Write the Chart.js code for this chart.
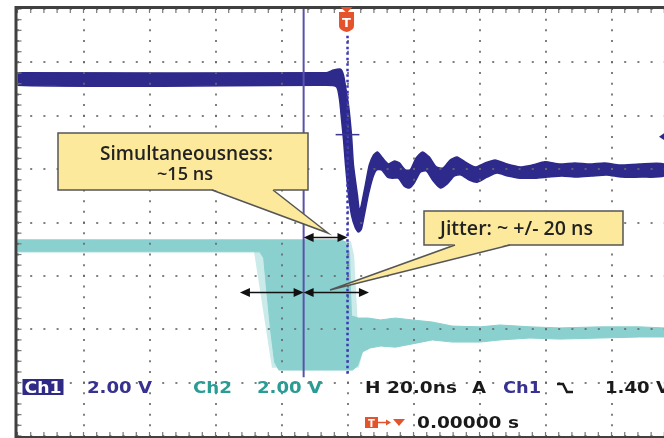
<!DOCTYPE html>
<html>
<head>
<meta charset="utf-8">
<script src="https://cdn.jsdelivr.net/npm/chart.js@4.4.1/dist/chart.umd.min.js"></script>
<style>
  html, body { margin: 0; padding: 0; background: #fff; overflow: hidden; }
  #wrap { width: 664px; height: 438px; position: relative; }
</style>
</head>
<body>
<div id="wrap"><canvas id="scope"></canvas></div>
<script>
// horizontal: ns, trigger at 0, 20 ns/div ; vertical: 2 V/div for both channels
const timeTicks = [-100, -80, -60, -40, -20, 0, 20, 40, 60, 80]
const divTicks = [-4, -3, -2, -1, 0, 1, 2, 3, 4]

// Ch1 persistence band, upper edge and lower edge (ns, V)
const ch1TopT = [-100, -6.6, -4.2, -2.1, -1.2, -0.6, 0.3, 1.2, 1.8, 3.0, 3.6, 4.2, 5.4, 6.6, 7.9, 9.1, 10.6, 12.4, 14.2, 15.7, 17.5, 19.0, 20.8, 22.7, 24.8, 26.9, 29.0, 31.1, 33.2, 35.6, 38.7, 41.7, 44.7, 48.3, 52.3, 55.9, 59.8, 64.3, 68.9, 73.4, 77.9, 82.5, 88.5, 95.9]
const ch1TopV = [3.72, 3.72, 3.82, 3.85, 3.62, 3.20, 2.51, 1.39, 0.26, -0.86, -1.46, -1.24, -0.49, 0.26, 0.64, 0.75, 0.53, 0.30, 0.41, 0.34, 0.08, 0.08, 0.53, 0.75, 0.56, 0.19, 0.15, 0.45, 0.56, 0.38, 0.19, 0.34, 0.45, 0.30, 0.19, 0.26, 0.38, 0.30, 0.34, 0.30, 0.34, 0.26, 0.30, 0.30]
const ch1BotT = [-100, -6.6, -3.3, -2.4, -1.8, -1.2, -0.6, 0.3, 1.2, 2.4, 3.3, 4.2, 5.1, 6.3, 7.6, 8.8, 10.3, 12.1, 13.6, 15.4, 17.2, 18.7, 20.2, 22.1, 23.9, 26.0, 28.1, 30.2, 32.3, 34.4, 36.9, 39.3, 42.3, 45.3, 48.6, 52.3, 56.8, 60.7, 65.0, 69.5, 74.0, 78.5, 83.1, 89.1, 95.9]
const ch1BotV = [3.25, 3.25, 3.19, 2.70, 1.95, 1.20, 0.26, -0.86, -1.61, -2.10, -2.25, -2.14, -1.61, -0.86, -0.23, 0.08, 0.08, -0.19, -0.23, -0.23, -0.53, -0.60, -0.41, 0.00, 0.04, -0.34, -0.60, -0.45, -0.15, -0.11, -0.30, -0.38, -0.19, -0.04, -0.15, -0.23, -0.23, -0.19, -0.15, -0.19, -0.15, -0.11, -0.19, -0.19, -0.15]

// Ch2 persistence band (ns, V)
const ch2TopT = [-100, -2.1, -0.6, 0.6, 0.9, 1.2, 3.3, 6.3, 10.0, 14.5, 19.6, 25.7, 31.7, 40.2, 46.2, 55.3, 64.3, 76.4, 88.5, 95.9]
const ch2TopV = [3.49, 3.49, 3.41, 3.04, 1.61, 0.64, 0.56, 0.56, 0.49, 0.56, 0.49, 0.41, 0.26, 0.23, 0.30, 0.23, 0.19, 0.23, 0.23, 0.19]
const ch2BotT = [-100, -26.6, -25.4, -24.5, -23.3, -22.1, -20.8, 1.5, 3.0, 4.5, 6.9, 10.0, 14.5, 19.6, 25.7, 31.7, 40.2, 46.2, 55.3, 64.3, 76.4, 88.5, 95.9]
const ch2BotV = [3.04, 3.04, 2.81, 1.61, 0.11, -1.09, -1.39, -1.39, -1.24, -0.71, -0.56, -0.49, -0.53, -0.41, -0.26, -0.34, -0.34, -0.26, -0.19, -0.23, -0.19, -0.15, -0.15]

// Ch2 jitter halo (outer extremes of the edge)
const ch2HaloT = [-28.4, -22.9, 3.4, 4.6, 3.0, 2.0, 1.0, -28.4]
const ch2HaloV = [3.10, -1.30, -1.30, -0.75, 0.60, 2.90, 3.45, 3.45]

const cursorT = -13.3
const trigLevel = 1.40
const simulArrow = [-13.3, 0]
const jitterArrows = [-32.6, -13.3, 6.5]

function outline(topT, topV, botT, botV) {
    let pts = []
    for (let i = 0; i < topT.length; i++) pts.push({x: topT[i], y: topV[i]})
    for (let i = botT.length - 1; i >= 0; i--) pts.push({x: botT[i], y: botV[i]})
    pts.push({x: topT[0], y: topV[0]})
    return pts
}

function polygon(t, v) {
    return t.map((x, i) => ({x: x, y: v[i]}))
}

function line(ctx, x1, y1, x2, y2) {
    ctx.beginPath()
    ctx.moveTo(x1, y1)
    ctx.lineTo(x2, y2)
    ctx.stroke()
}

function arrow(ctx, xa, xb, y) {
    ctx.strokeStyle = '#111'
    ctx.fillStyle = '#111'
    ctx.lineWidth = 1.5
    line(ctx, xa + 4, y, xb - 4, y)
    for (const [tip, dir] of [[xa, -1], [xb, 1]]) {
        ctx.beginPath()
        ctx.moveTo(tip, y)
        ctx.lineTo(tip - dir * 10, y - 4.5)
        ctx.lineTo(tip - dir * 10, y + 4.5)
        ctx.closePath()
        ctx.fill()
    }
}

function callout(ctx, box, tail, lines) {
    const [x0, y0, x1, y1] = box
    ctx.fillStyle = '#fce99b'
    ctx.strokeStyle = '#555'
    ctx.lineWidth = 1.5
    ctx.fillRect(x0, y0, x1 - x0, y1 - y0)
    ctx.strokeRect(x0, y0, x1 - x0, y1 - y0)
    const [bx0, bx1, tx, ty] = tail
    ctx.beginPath()
    ctx.moveTo(bx0, y1 - 1)
    ctx.lineTo(tx, ty)
    ctx.lineTo(bx1, y1 - 1)
    ctx.closePath()
    ctx.fill()
    ctx.beginPath()
    ctx.moveTo(bx0, y1)
    ctx.lineTo(tx, ty)
    ctx.lineTo(bx1, y1)
    ctx.stroke()
    for (const [text, cx, base, width] of lines) {
        ctx.font = '600 20px "Open Sans"'
        const size = 20 * width / ctx.measureText(text).width
        ctx.font = '600 ' + size + 'px "Open Sans"'
        ctx.fillStyle = '#222'
        ctx.textAlign = 'center'
        ctx.fillText(text, cx, base)
    }
}

// scope font is wide: stretch the glyphs to the measured width
function readout(ctx, text, x0, base, width, color) {
    ctx.font = 'bold 16px "DejaVu Sans"'
    const w = ctx.measureText(text).width
    ctx.save()
    ctx.translate(x0, base)
    ctx.scale(width / w, 1)
    ctx.textAlign = 'left'
    ctx.fillStyle = color
    ctx.fillText(text, 0, 0)
    ctx.restore()
}

const overlay = {
    id: 'overlay',
    afterDraw(chart) {
        const {ctx, chartArea: a, scales} = chart
        const px = v => scales.x.getPixelForValue(v)
        const pd = v => scales.y.getPixelForValue(v)
        const p1 = v => scales.y1.getPixelForValue(v)
        ctx.save()

        // small graticule ticks on the frame
        ctx.strokeStyle = '#777'
        ctx.lineWidth = 1.2
        for (let t = -100; t <= 96; t += 4) {
            line(ctx, px(t), a.top, px(t), a.top + 4)
            line(ctx, px(t), a.bottom - 4, px(t), a.bottom)
        }
        for (let d = -4; d <= 4.01; d += 0.2) {
            line(ctx, a.left, pd(d), a.left + 4, pd(d))
        }
        // frame
        ctx.strokeStyle = '#404040'
        ctx.lineWidth = 3
        ctx.beginPath()
        ctx.moveTo(a.right + 2, a.top - 1.5)
        ctx.lineTo(a.left - 1.5, a.top - 1.5)
        ctx.lineTo(a.left - 1.5, a.bottom + 1.5)
        ctx.lineTo(a.right + 2, a.bottom + 1.5)
        ctx.stroke()

        // cursor
        ctx.strokeStyle = '#5a52aa'
        ctx.lineWidth = 2
        line(ctx, px(cursorT), a.top, px(cursorT), pd(-2.9))

        // trigger position (dotted)
        ctx.strokeStyle = '#3a37b8'
        ctx.lineWidth = 2.5
        ctx.setLineDash([2.5, 3])
        line(ctx, px(0), pd(3.5), px(0), pd(-2.86))
        ctx.setLineDash([])

        // trigger crosshair and level marker
        ctx.strokeStyle = '#3a3590'
        ctx.lineWidth = 1.5
        line(ctx, px(-3.6), p1(trigLevel), px(3.6), p1(trigLevel))
        ctx.fillStyle = '#2e2a8c'
        ctx.beginPath()
        ctx.moveTo(a.right - 5, p1(trigLevel) + 2)
        ctx.lineTo(a.right + 1, p1(trigLevel) - 2)
        ctx.lineTo(a.right + 1, p1(trigLevel) + 6)
        ctx.closePath()
        ctx.fill()

        // T marker
        const tx = px(0) - 1
        ctx.fillStyle = '#e4532b'
        ctx.beginPath()
        ctx.moveTo(tx - 6, a.top - 2)
        ctx.lineTo(tx + 6, a.top - 2)
        ctx.lineTo(tx, a.top + 4)
        ctx.closePath()
        ctx.fill()
        ctx.beginPath()
        ctx.moveTo(tx - 7.5, a.top + 3)
        ctx.lineTo(tx + 7.5, a.top + 3)
        ctx.lineTo(tx + 7.5, a.top + 17)
        ctx.quadraticCurveTo(tx + 7.5, a.top + 21, tx, a.top + 23)
        ctx.quadraticCurveTo(tx - 7.5, a.top + 21, tx - 7.5, a.top + 17)
        ctx.closePath()
        ctx.fill()
        ctx.fillStyle = '#fff'
        ctx.font = 'bold 13px "DejaVu Sans"'
        ctx.textAlign = 'center'
        ctx.fillText('T', tx, a.top + 18)

        // arrows
        arrow(ctx, px(simulArrow[0]), px(simulArrow[1]), pd(-0.28))
        arrow(ctx, px(jitterArrows[0]), px(jitterArrows[1]), pd(-1.31))
        arrow(ctx, px(jitterArrows[1]), px(jitterArrows[2]), pd(-1.31))

        // callouts
        callout(ctx, [58, 133, 308, 190], [212, 273, 328, 233],
            [['Simultaneousness:', 186.5, 160, 173], ['~15 ns', 185, 180, 56]])
        callout(ctx, [424, 211, 623, 245], [455, 510, 330, 290],
            [['Jitter: ~ +/- 20 ns', 516.5, 235, 153]])

        // scope readouts
        ctx.fillStyle = '#2e2a86'
        ctx.fillRect(22.5, 379, 41, 16)
        readout(ctx, 'Ch1', 24.5, 393, 37, '#ffffff')
        readout(ctx, '2.00 V', 87, 393, 65, '#37318f')
        readout(ctx, 'Ch2', 193, 393, 39, '#2a9c94')
        readout(ctx, '2.00 V', 257, 393, 65, '#2a9c94')
        readout(ctx, 'H 20.0ns', 365, 393, 92, '#1a1a1a')
        readout(ctx, 'A', 472, 393, 14, '#1a1a1a')
        readout(ctx, 'Ch1', 503, 393, 38, '#37318f')
        readout(ctx, '1.40 V', 605, 393, 65, '#1a1a1a')
        ctx.strokeStyle = '#1a1a1a'
        ctx.lineWidth = 2.5
        ctx.beginPath()
        ctx.moveTo(557, 384)
        ctx.lineTo(563, 384)
        ctx.lineTo(567, 392)
        ctx.lineTo(573, 392)
        ctx.stroke()

        ctx.fillStyle = '#e4532b'
        ctx.fillRect(365, 417, 13, 11)
        ctx.fillStyle = '#fff'
        ctx.font = 'bold 10px "DejaVu Sans"'
        ctx.textAlign = 'center'
        ctx.fillText('T', 371.5, 426.5)
        ctx.strokeStyle = '#e4532b'
        ctx.lineWidth = 1.5
        line(ctx, 378, 422.5, 389, 422.5)
        ctx.fillStyle = '#e4532b'
        ctx.beginPath()
        ctx.moveTo(386, 419.5); ctx.lineTo(391, 422.5); ctx.lineTo(386, 425.5)
        ctx.closePath(); ctx.fill()
        ctx.beginPath()
        ctx.moveTo(393, 419); ctx.lineTo(405, 419); ctx.lineTo(399, 426)
        ctx.closePath(); ctx.fill()
        readout(ctx, '0.00000 s', 417, 428, 102, '#1a1a1a')

        ctx.restore()
    }
}

const gridColor = 'rgba(105,105,105,0.85)'

new Chart(document.getElementById('scope'), {
    type: 'scatter',
    data: {
        datasets: [{
            label: 'Ch1',
            data: outline(ch1TopT, ch1TopV, ch1BotT, ch1BotV),
            yAxisID: 'y1',
            showLine: true,
            fill: 'shape',
            tension: 0.2,
            backgroundColor: '#2d2a8b',
            borderColor: '#2d2a8b',
            borderWidth: 1.5,
            pointRadius: 0
        }, {
            label: 'Ch2',
            data: outline(ch2TopT, ch2TopV, ch2BotT, ch2BotV),
            yAxisID: 'y2',
            showLine: true,
            fill: 'shape',
            backgroundColor: '#8ad0cf',
            borderColor: '#8ad0cf',
            borderWidth: 1,
            pointRadius: 0
        }, {
            label: 'Ch2 jitter',
            data: polygon(ch2HaloT, ch2HaloV),
            yAxisID: 'y2',
            showLine: true,
            fill: 'shape',
            backgroundColor: '#cbeaea',
            borderWidth: 0,
            pointRadius: 0
        }]
    },
    options: {
        responsive: true,
        maintainAspectRatio: false,
        animation: false,
        layout: { padding: { left: 17.5, top: 9, right: 0, bottom: 2 } },
        plugins: {
            legend: { display: false },
            tooltip: { enabled: false }
        },
        scales: {
            x: {
                type: 'linear',
                min: -100,
                max: 95.9,
                afterBuildTicks: s => { s.ticks = timeTicks.map(v => ({value: v})) },
                ticks: { display: false },
                grid: { color: gridColor, lineWidth: 2, drawTicks: false, z: 1 },
                border: { display: false, dash: [2, 8.675], dashOffset: 1 }
            },
            y: {
                type: 'linear',
                min: -4,
                max: 4,
                afterBuildTicks: s => { s.ticks = divTicks.map(v => ({value: v})) },
                ticks: { display: false },
                grid: { color: gridColor, lineWidth: 2, drawTicks: false, z: 1 },
                border: { display: false, dash: [2, 11.2], dashOffset: 1 }
            },
            y1: { type: 'linear', display: false, min: -9.892, max: 6.108 },
            y2: { type: 'linear', display: false, min: -3.86, max: 12.14 }
        }
    },
    plugins: [overlay]
})
</script>
</body>
</html>
